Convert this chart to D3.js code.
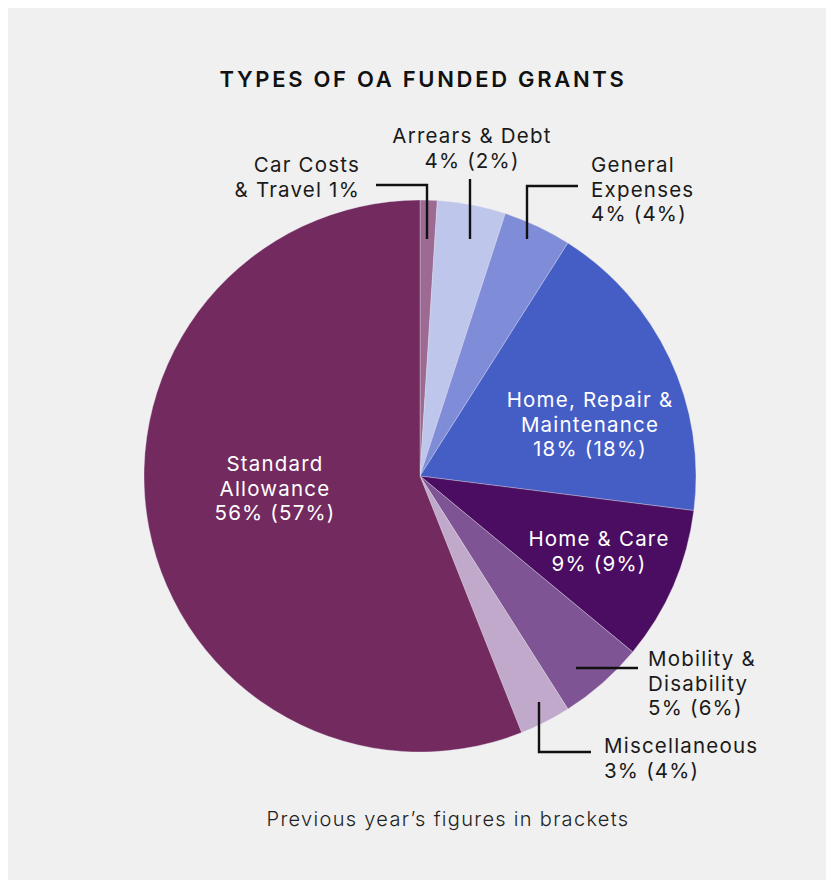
<!DOCTYPE html>
<html>
<head>
<meta charset="utf-8">
<script src="https://cdn.jsdelivr.net/npm/d3@7"></script>
<style>
  html, body { margin: 0; padding: 0; background: #ffffff; }
  svg { display: block; }
  text { font-family: Inter, "Open Sans", sans-serif; }
</style>
</head>
<body>
<svg id="chart" width="826" height="881"></svg>
<script>
// Grant categories, clockwise from 12 o'clock
const categories = [
  "Car Costs & Travel",
  "Arrears & Debt",
  "General Expenses",
  "Home, Repair & Maintenance",
  "Home & Care",
  "Mobility & Disability",
  "Miscellaneous",
  "Standard Allowance"
];
// Share of grants this year (%)
const shares = [1, 4, 4, 18, 9, 5, 3, 56];
// Share of grants previous year (%), null where not shown
const previousShares = [null, 2, 4, 18, 9, 6, 4, 57];
const colors = ["#9c6a92", "#bec6eb", "#7f8dd9", "#455ec6", "#4a0d61", "#7e5494", "#c0a9ca", "#722a5f"];

const title = "TYPES OF OA FUNDED GRANTS";
const footnote = "Previous year\u2019s figures in brackets";

const svg = d3.select("#chart");
const W = 826, H = 881;

// panel
svg.append("rect").attr("x", 8).attr("y", 8).attr("width", W - 8).attr("height", H - 9)
  .attr("fill", "#f0f0f0");

svg.append("text")
  .attr("x", 423).attr("y", 87)
  .attr("text-anchor", "middle")
  .attr("font-size", 22).attr("font-weight", 600)
  .attr("letter-spacing", 2.7)
  .attr("fill", "#111")
  .text(title);

const cx = 420, cy = 476, R = 276;
const g = svg.append("g").attr("transform", `translate(${cx},${cy})`);

const data = categories.map((c, i) => ({ name: c, value: shares[i], prev: previousShares[i], color: colors[i] }));
const pie = d3.pie().sort(null).value(d => d.value).startAngle(0).endAngle(2 * Math.PI);
const arc = d3.arc().innerRadius(0).outerRadius(R);
const arcs = pie(data);

g.selectAll("path.slice").data(arcs).join("path")
  .attr("class", "slice")
  .attr("d", arc)
  .attr("fill", d => d.data.color)
  .attr("stroke", "#e8e2ee").attr("stroke-width", 0.6).attr("stroke-opacity", 0.6);

const valueText = d => d.prev == null ? `${d.value}%` : `${d.value}% (${d.prev}%)`;

// Label layout: text lines, anchor and first baseline
const labelLayout = {
  "Car Costs & Travel":         { x: 360, y: 172, anchor: "end",    lines: d => ["Car Costs", `& Travel ${d.value}%`], fill: "#1a1a1a" },
  "Arrears & Debt":             { x: 472, y: 143, anchor: "middle", lines: d => ["Arrears & Debt", valueText(d)], fill: "#1a1a1a" },
  "General Expenses":           { x: 591, y: 172, anchor: "start",  lines: d => ["General", "Expenses", valueText(d)], fill: "#1a1a1a" },
  "Home, Repair & Maintenance": { x: 590, y: 407, anchor: "middle", lines: d => ["Home, Repair &", "Maintenance", valueText(d)], fill: "#ffffff" },
  "Home & Care":                { x: 599, y: 546, anchor: "middle", lines: d => ["Home & Care", valueText(d)], fill: "#ffffff" },
  "Mobility & Disability":      { x: 648, y: 666, anchor: "start",  lines: d => ["Mobility &", "Disability", valueText(d)], fill: "#1a1a1a" },
  "Miscellaneous":              { x: 604, y: 753, anchor: "start",  lines: d => ["Miscellaneous", valueText(d)], fill: "#1a1a1a" },
  "Standard Allowance":         { x: 275, y: 471, anchor: "middle", lines: d => ["Standard", "Allowance", valueText(d)], fill: "#ffffff" }
};
const lineHeight = 24.5;

// Leader lines for the labels placed outside the pie
const leaders = {
  "Car Costs & Travel":    [[376, 185], [427, 185], [427, 239]],
  "Arrears & Debt":        [[470, 179], [470, 239]],
  "General Expenses":      [[578, 186], [527, 186], [527, 239]],
  "Mobility & Disability": [[638, 668], [576, 668]],
  "Miscellaneous":         [[591, 752], [539, 752], [539, 702]]
};

const line = d3.line();
Object.entries(leaders).forEach(([name, pts]) => {
  svg.append("path")
    .attr("d", line(pts))
    .attr("fill", "none")
    .attr("stroke", "#111")
    .attr("stroke-width", 2.4);
});

data.forEach(d => {
  const L = labelLayout[d.name];
  const t = svg.append("text")
    .attr("text-anchor", L.anchor)
    .attr("font-size", 20.5)
    .attr("letter-spacing", 1.2)
    .attr("font-weight", 400)
    .attr("fill", L.fill);
  L.lines(d).forEach((s, i) => {
    t.append("tspan").attr("x", L.x).attr("y", L.y + i * lineHeight).text(s);
  });
});

svg.append("text")
  .attr("x", 448).attr("y", 826)
  .attr("text-anchor", "middle")
  .attr("font-size", 20).attr("font-weight", 300)
  .attr("letter-spacing", 1.3)
  .attr("fill", "#222")
  .text(footnote);
</script>
</body>
</html>
